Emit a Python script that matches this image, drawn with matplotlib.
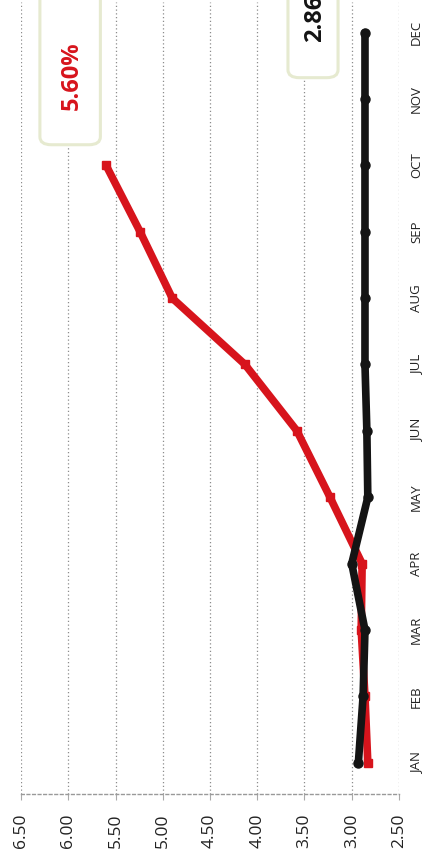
from matplotlib import pyplot as pl
from matplotlib.patches import FancyBboxPatch

months = ['JAN', 'FEB', 'MAR', 'APR', 'MAY', 'JUN',
          'JUL', 'AUG', 'SEP', 'OCT', 'NOV', 'DEC']
red_vals = [2.83, 2.86, 2.90, 2.89, 3.23, 3.58, 4.13, 4.90, 5.24, 5.60]
black_vals = [2.93, 2.88, 2.86, 3.00, 2.83, 2.84, 2.86, 2.86, 2.86, 2.86,
              2.86, 2.86]
value_ticks = [6.50, 6.00, 5.50, 5.00, 4.50, 4.00, 3.50, 3.00, 2.50]

pl.rcParams['font.family'] = ['Open Sans', 'DejaVu Sans']

fig = pl.figure(figsize=(4.35, 8.59), dpi=100)
ax = fig.add_axes([21/435, 65/859, 378/435, 792/859])

red_pos = list(range(len(red_vals)))
black_pos = list(range(len(black_vals)))

ax.plot(red_vals, red_pos, color='#d7141c', lw=5.5, marker='s', ms=6,
        solid_capstyle='round', zorder=3)
ax.plot(black_vals, black_pos, color='#141414', lw=5.5, marker='o', ms=6.5,
        solid_capstyle='round', zorder=4)

ax.set_xlim(6.5, 2.5)
ax.set_ylim(-0.47, 11.46)

ax.set_xticks(value_ticks)
ax.set_xticklabels(['{:.2f}'.format(v) for v in value_ticks],
                   rotation=90, fontsize=12.5, color='#222222')
ax.tick_params(axis='x', length=4, color='#aaaaaa', pad=10)

ax.yaxis.tick_right()
ax.set_yticks(range(len(months)))
ax.set_yticklabels(months, rotation=90, fontsize=9.5, color='#222222',
                   va='center')
ax.tick_params(axis='y', length=0, pad=8)

ax.grid(axis='x', linestyle=(0, (1, 2)), color='#8c8c8c', lw=0.9)
for s in ['top', 'left', 'right']:
    ax.spines[s].set_visible(False)
ax.spines['bottom'].set_linestyle((0, (2, 2)))
ax.spines['bottom'].set_color('#999999')
ax.spines['bottom'].set_linewidth(1.0)

# Value boxes
box1 = FancyBboxPatch((5.66, 9.31), 0.64, 2.5,
                      boxstyle='round,pad=0,rounding_size=0.12',
                      fc='white', ec='#e6ead0', lw=2.2, clip_on=False,
                      zorder=5)
ax.add_patch(box1)
ax.text(5.96, 9.83, '5.60%', rotation=90, rotation_mode='anchor',
        ha='left', va='center', fontsize=17, fontweight='bold',
        color='#d7141c', zorder=6, clip_on=False)

box2 = FancyBboxPatch((3.145, 10.32), 0.53, 2.0,
                      boxstyle='round,pad=0,rounding_size=0.12',
                      fc='white', ec='#e6ead0', lw=2.2, clip_on=False,
                      zorder=5)
ax.add_patch(box2)
ax.text(3.39, 10.86, '2.86%', rotation=90, rotation_mode='anchor',
        ha='left', va='center', fontsize=17, fontweight='bold',
        color='#141414', zorder=6, clip_on=False)

fig.savefig('out.png', dpi=100)
